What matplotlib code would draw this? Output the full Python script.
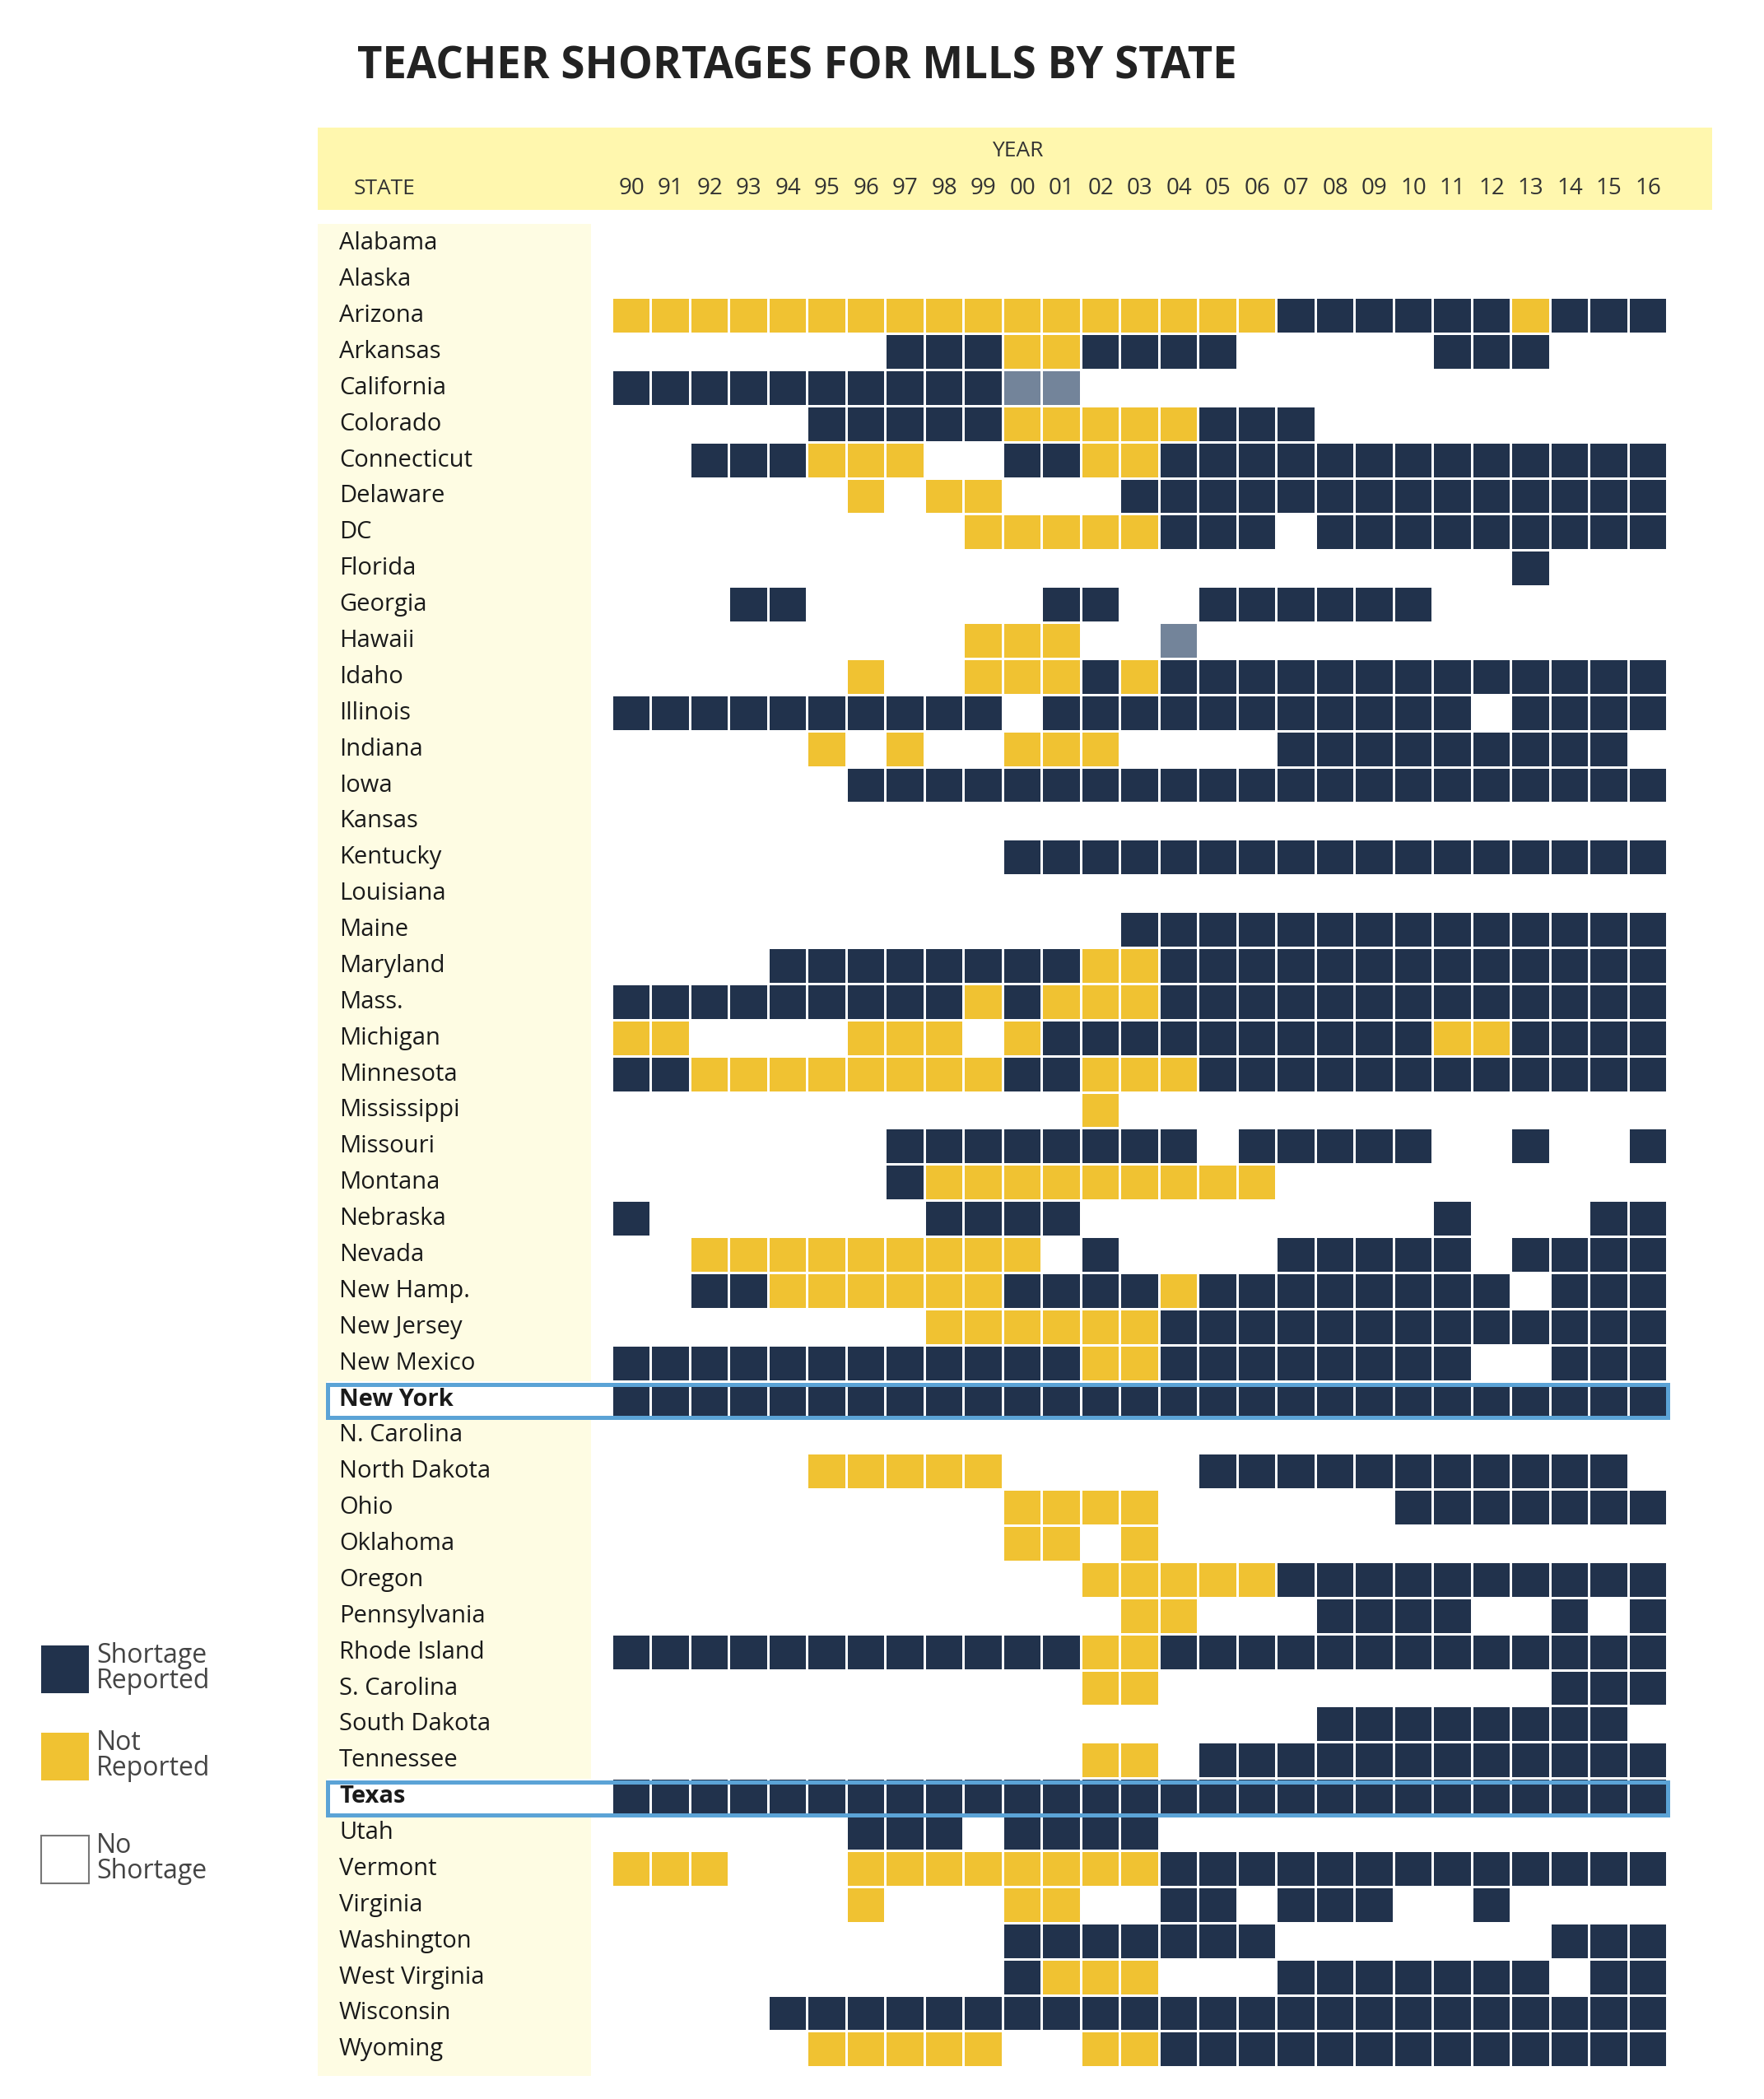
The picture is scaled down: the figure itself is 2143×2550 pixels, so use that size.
import matplotlib
matplotlib.use("Agg")
import matplotlib.pyplot as plt
import matplotlib.patches as patches

# 州と年
states = ["Alabama", "Alaska", "Arizona", "Arkansas", "California", "Colorado",
          "Connecticut", "Delaware", "DC", "Florida", "Georgia", "Hawaii", "Idaho",
          "Illinois", "Indiana", "Iowa", "Kansas", "Kentucky", "Louisiana", "Maine",
          "Maryland", "Mass.", "Michigan", "Minnesota", "Mississippi", "Missouri",
          "Montana", "Nebraska", "Nevada", "New Hamp.", "New Jersey", "New Mexico",
          "New York", "N. Carolina", "North Dakota", "Ohio", "Oklahoma", "Oregon",
          "Pennsylvania", "Rhode Island", "S. Carolina", "South Dakota", "Tennessee",
          "Texas", "Utah", "Vermont", "Virginia", "Washington", "West Virginia",
          "Wisconsin", "Wyoming"]

years = ["90", "91", "92", "93", "94", "95", "96", "97", "98", "99", "00", "01", "02",
         "03", "04", "05", "06", "07", "08", "09", "10", "11", "12", "13", "14", "15", "16"]

# S: shortage reported, N: not reported, G: grey, .: no shortage
status = [
    "...........................",  # Alabama
    "...........................",  # Alaska
    "NNNNNNNNNNNNNNNNNSSSSSSNSSS",  # Arizona
    ".......SSSNNSSSS.....SSS...",  # Arkansas
    "SSSSSSSSSSGG...............",  # California
    ".....SSSSSNNNNNSSS.........",  # Colorado
    "..SSSNNN..SSNNSSSSSSSSSSSSS",  # Connecticut
    "......N.NN...SSSSSSSSSSSSSS",  # Delaware
    ".........NNNNNSSS.SSSSSSSSS",  # DC
    ".......................S...",  # Florida
    "...SS......SS..SSSSSS......",  # Georgia
    ".........NNN..G............",  # Hawaii
    "......N..NNNSNSSSSSSSSSSSSS",  # Idaho
    "SSSSSSSSSS.SSSSSSSSSSS.SSSS",  # Illinois
    ".....N.N..NNN....SSSSSSSSS.",  # Indiana
    "......SSSSSSSSSSSSSSSSSSSSS",  # Iowa
    "...........................",  # Kansas
    "..........SSSSSSSSSSSSSSSSS",  # Kentucky
    "...........................",  # Louisiana
    ".............SSSSSSSSSSSSSS",  # Maine
    "....SSSSSSSSNNSSSSSSSSSSSSS",  # Maryland
    "SSSSSSSSSNSNNNSSSSSSSSSSSSS",  # Mass.
    "NN....NNN.NSSSSSSSSSSNNSSSS",  # Michigan
    "SSNNNNNNNNSSNNNSSSSSSSSSSSS",  # Minnesota
    "............N..............",  # Mississippi
    ".......SSSSSSSS.SSSSS..S..S",  # Missouri
    ".......SNNNNNNNNN..........",  # Montana
    "S.......SSSS.........S...SS",  # Nebraska
    "..NNNNNNNNN.S....SSSSS.SSSS",  # Nevada
    "..SSNNNNNNSSSSNSSSSSSSS.SSS",  # New Hamp.
    "........NNNNNNSSSSSSSSSSSSS",  # New Jersey
    "SSSSSSSSSSSSNNSSSSSSSS..SSS",  # New Mexico
    "SSSSSSSSSSSSSSSSSSSSSSSSSSS",  # New York
    "...........................",  # N. Carolina
    ".....NNNNN.....SSSSSSSSSSS.",  # North Dakota
    "..........NNNN......SSSSSSS",  # Ohio
    "..........NN.N.............",  # Oklahoma
    "............NNNNNSSSSSSSSSS",  # Oregon
    ".............NN...SSSS..S.S",  # Pennsylvania
    "SSSSSSSSSSSSNNSSSSSSSSSSSSS",  # Rhode Island
    "............NN..........SSS",  # S. Carolina
    "..................SSSSSSSS.",  # South Dakota
    "............NN.SSSSSSSSSSSS",  # Tennessee
    "SSSSSSSSSSSSSSSSSSSSSSSSSSS",  # Texas
    "......SSS.SSSS.............",  # Utah
    "NNN...NNNNNNNNSSSSSSSSSSSSS",  # Vermont
    "......N...NN..SS.SSS..S....",  # Virginia
    "..........SSSSSSS.......SSS",  # Washington
    "..........SNNN...SSSSSSS.SS",  # West Virginia
    "....SSSSSSSSSSSSSSSSSSSSSSS",  # Wisconsin
    ".....NNNNN..NNSSSSSSSSSSSSS",  # Wyoming
]

highlight = ["New York", "Texas"]

legend_labels = ["Shortage\nReported", "Not\nReported", "No\nShortage"]

colors = {"S": "#21324c", "N": "#f0c232", "G": "#73849a"}

plt.rcParams["font.family"] = ["Open Sans", "DejaVu Sans"]

# ピクセル配置
W, H = 2143, 2550
grid_left, grid_top = 743.5, 273.9
col_w, row_h = 47.5, 43.88


def dx(px):
    return (px - grid_left) / col_w


def dy(py):
    return (py - grid_top) / row_h


fig = plt.figure(figsize=(W / 100, H / 100), dpi=100)
ax = fig.add_axes([0, 0, 1, 1])
ax.set_xlim(dx(0), dx(W))
ax.set_ylim(dy(H), dy(0))
ax.axis("off")

# タイトル
ax.text(dx(434), dy(81), "TEACHER SHORTAGES FOR MLLS BY STATE", fontsize=38,
        fontweight="bold", color="#222222", ha="left", va="center")

# ヘッダー帯
ax.add_patch(patches.Rectangle((dx(386), dy(155)), dx(2080) - dx(386), dy(255) - dy(155),
                               facecolor="#fff7ae", edgecolor="none", zorder=0))
ax.text(dx(1236), dy(184), "YEAR", fontsize=19, color="#333333", ha="center", va="center")
ax.text(dx(430), dy(229), "STATE", fontsize=19, color="#333333", ha="left", va="center")
for j, y in enumerate(years):
    ax.text(j + 0.5, dy(229), y, fontsize=20, color="#333333", ha="center", va="center")

# 州ラベルの背景
ax.add_patch(patches.Rectangle((dx(386), dy(272)), dx(718) - dx(386), dy(2522) - dy(272),
                               facecolor="#fefce3", edgecolor="none", zorder=0))

# セル
for i, s in enumerate(status):
    for j, c in enumerate(s):
        if c == ".":
            continue
        ax.add_patch(patches.Rectangle((j + 0.031, i + 0.034), 0.937, 0.932,
                                       facecolor=colors[c], edgecolor="none", zorder=2))

# 州ラベル
for i, name in enumerate(states):
    bold = name in highlight
    if bold:
        ax.add_patch(patches.Rectangle((dx(397), i), dx(718) - dx(397), 1,
                                       facecolor="white", edgecolor="none", zorder=1))
        ax.add_patch(patches.Rectangle((dx(397.5), i + 0.09), 27 - dx(397.5), 0.91,
                                       facecolor="none", edgecolor="#5ba3d6", linewidth=3.6,
                                       zorder=4))
    ax.text(dx(412), i + 0.5, name, fontsize=21, color="#1a1a1a", ha="left", va="center",
            fontweight="bold" if bold else "normal", zorder=5)

# 凡例
legend_colors = [colors["S"], colors["N"], "white"]
legend_tops = [1999, 2105, 2230]
for lab, col, top in zip(legend_labels, legend_colors, legend_tops):
    edge = "#777777" if col == "white" else "none"
    ax.add_patch(patches.Rectangle((dx(50), dy(top)), dx(108) - dx(50), dy(top + 58) - dy(top),
                                   facecolor=col, edgecolor=edge, linewidth=1.5, zorder=2))
    ax.text(dx(117), dy(top + 28), lab, fontsize=23, color="#444444", ha="left",
            va="center", linespacing=0.95)

fig.savefig("out.png", dpi=100)
